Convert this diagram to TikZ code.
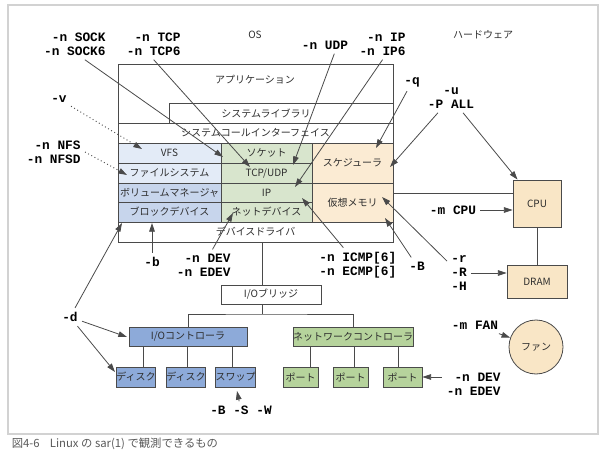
\documentclass[tikz,border=0pt]{standalone}
\usepackage{fontspec}
\setmonofont{Liberation Mono}
\newfontfamily\jpfont{Noto Sans CJK JP}
\usepackage{tikz}
\usetikzlibrary{arrows.meta}
\definecolor{boxline}{HTML}{4A4A4A}
\definecolor{framegray}{HTML}{D2D2D2}
\definecolor{jptext}{HTML}{2E2E2E}
\definecolor{fsblue}{HTML}{E3EBF7}
\definecolor{blkblue}{HTML}{C7D5EC}
\definecolor{netgreen}{HTML}{D8E5CD}
\definecolor{hwbeige}{HTML}{FBEBD3}
\definecolor{cpubeige}{HTML}{F9E6C6}
\definecolor{ioblue}{HTML}{8DAAD9}
\definecolor{portgreen}{HTML}{B6D39C}
\tikzset{>/.tip={Triangle[length=6.5pt,width=4.2pt]}}
\newcommand{\pxu}{0.75pt}

\begin{document}
\begin{tikzpicture}[x=0.75pt, y=-0.75pt, line width=0.6pt, draw=boxline,
  jp/.style={font=\jpfont\fontsize{7.5}{8.5}\selectfont, text=jptext},
  cell/.style 2 args={draw=boxline, inner sep=0pt, jp,
    minimum width=#1*\pxu, minimum height=#2*\pxu},
  optlabel/.style={font=\ttfamily\bfseries\fontsize{9.6}{10.5}\selectfont, inner sep=3pt}]
\useasboundingbox (0,0) rectangle (600,456);
\draw[framegray, line width=1pt] (8,5) rectangle (598,434);

\node[jp] (ostitle) at (255,35) {OS};
\node[jp] (hwtitle) at (483,35) {ハードウェア};

% OS layers
\node[cell={275}{178}, fill=white] (os) at (255.5,153) {};
\node[jp] (app) at (255,80) {アプリケーション};
\draw[boxline] (169,103) rectangle (393,123);
\node[jp] (syslib) at (266,113) {システムライブラリ};
\node[cell={275}{20}] (syscall) at (255.5,133) {システムコールインターフェイス};
\node[cell={103}{20}, fill=fsblue] (vfs) at (169.5,153) {VFS};
\node[cell={103}{20}, fill=fsblue] (fs) at (169.5,173) {ファイルシステム};
\node[cell={103}{19}, fill=blkblue] (vol) at (169.5,192.5) {ボリュームマネージャ};
\node[cell={103}{20}, fill=blkblue] (blk) at (169.5,212) {ブロックデバイス};
\node[cell={91}{20}, fill=netgreen] (sock) at (266.5,153) {ソケット};
\node[cell={91}{20}, fill=netgreen] (tcp) at (266.5,173) {TCP/UDP};
\node[cell={91}{19}, fill=netgreen] (ip) at (266.5,192.5) {IP};
\node[cell={91}{20}, fill=netgreen] (netdev) at (266.5,212) {ネットデバイス};
\node[cell={81}{40}, fill=hwbeige] (sched) at (352.5,163) {スケジューラ};
\node[cell={81}{39}, fill=hwbeige] (vm) at (352.5,202.5) {仮想メモリ};
\node[cell={275}{20}] (drv) at (255.5,232) {デバイスドライバ};

% hardware
\node[cell={48}{47}, fill=cpubeige] (cpu) at (537,203.5) {CPU};
\node[cell={60}{33}, fill=cpubeige] (dram) at (537,281.5) {DRAM};
\node[circle, draw=boxline, fill=cpubeige, inner sep=0pt, minimum size=54*\pxu, jp] (fan) at (536,347) {ファン};
\draw (cpu) -- (dram);
\coordinate (osport) at (393,193);
\draw (osport) -- (osport -| cpu.west);

% I/O
\coordinate (bus) at (262,314);
\node[cell={100}{19}, fill=white] (bridge) at (271,294.5) {I/Oブリッジ};
\draw (bus |- drv.south) -- (bus |- bridge.north);
\draw (bus |- bridge.south) -- (bus);
\node[cell={118}{19}, fill=ioblue] (ioc) at (188,336.5) {I/Oコントローラ};
\node[cell={120}{19}, fill=portgreen] (nic) at (353,336.5) {ネットワークコントローラ};
\draw (ioc.north) |- (bus) -| (nic.north);
\foreach \n/\x/\w/\t in {disk1/136/38/ディスク, disk2/186/38/ディスク, swap/235.5/39/スワップ}
  \node[cell={\w}{20}, fill=ioblue] (\n) at (\x,377) {\t};
\foreach \n/\x/\w in {port1/300.5/35, port2/350.5/35, port3/402.5/39}
  \node[cell={\w}{20}, fill=portgreen] (\n) at (\x,377) {ポート};
\foreach \n/\x in {disk1/143, disk2/187, swap/232}
  \draw (\n.north -| \x,0) -- (ioc.south -| \x,0);
\foreach \n/\x in {port1/310, port2/354, port3/398}
  \draw (\n.north -| \x,0) -- (nic.south -| \x,0);

% sar options
\node[optlabel, align=right, anchor=east] (sockl) at (110,44) {-n SOCK\\-n SOCK6};
\node[optlabel, align=right, anchor=east] (tcpl) at (185,44) {-n TCP\\-n TCP6};
\node[optlabel] (udpl) at (325,45) {-n UDP};
\node[optlabel, align=right, anchor=east] (ipl) at (410,44) {-n IP\\-n IP6};
\node[optlabel] (ql) at (412,82) {-q};
\node[optlabel, align=center] (ul) at (451,98) {-u\\-P ALL};
\node[optlabel] (vl) at (59,99) {-v};
\node[optlabel, align=right, anchor=east] (nfsl) at (85,152) {-n NFS\\-n NFSD};
\node[optlabel] (bl) at (152,262) {-b};
\node[optlabel] (dl) at (70,317) {-d};
\node[optlabel, align=right, anchor=east] (devl) at (235,265) {-n DEV\\-n EDEV};
\node[optlabel, align=left, anchor=west] (icmpl) at (315,265) {-n ICMP[6]\\-n ECMP[6]};
\node[optlabel] (Bl) at (417,266) {-B};
\node[optlabel, align=left, anchor=west] (rl) at (447,273) {-r\\-R\\-H};
\node[optlabel] (mcpul) at (453,210) {-m CPU};
\node[optlabel] (fanl) at (475,325) {-m FAN};
\node[optlabel, align=right, anchor=east] (devrl) at (505,384) {-n DEV\\-n EDEV};
\node[optlabel] (bswl) at (241,410) {-B -S -W};

\coordinate (tsock) at (223,157);
\coordinate (ttcp) at (250,167);
\coordinate (tudp) at (293,165);
\coordinate (tip) at (295,187);
\coordinate (tq) at (376,148);
\coordinate (tsched) at (390,167);
\coordinate (tvfs) at (142,149);
\coordinate (tfs) at (127,175);
\coordinate (tblk) at (152,223);
\coordinate (tblkd) at (122,223);
\coordinate (tioc) at (127,337);
\coordinate (tdisk) at (115,372);
\coordinate (tnetdev) at (233,213);
\coordinate (ticmp) at (302,198);
\coordinate (tvmB) at (385,218);
\coordinate (tvmr) at (382,197);
\coordinate (tswap) at (237,391);

\draw[->] ([xshift=7.5pt]sockl.south) -- (tsock);
\draw[->] (tcpl.south) -- (ttcp);
\draw[->] ([xshift=7pt]udpl.south) -- (tudp);
\draw[->] (ipl.south) -- (tip);
\draw[->] (ql) -- (tq);
\draw[->] (ul) -- (tsched);
\draw[->] (ul) -- (cpu);
\draw[->, dotted, line width=0.7pt] (vl) -- (tvfs);
\draw[->, dotted, line width=0.7pt] (nfsl.east) -- (tfs);
\draw[->] (bl) -- (tblk);
\draw[->] (dl) -- (tblkd);
\draw[->] (dl) -- (tioc);
\draw[->] (dl) -- (tdisk);
\draw[->] (devl) -- (tnetdev);
\draw[->] (icmpl) -- (ticmp);
\draw[->] (Bl) -- (tvmB);
\draw[->] (rl) -- (tvmr);
\draw[->] (rl) -- (rl -| dram.west);
\draw[->] (mcpul) -- (mcpul -| cpu.west);
\draw[->] (fanl) -- (fan);
\draw[<-] (port3.east) -- (port3.east -| devrl.west);
\draw[->] (bswl) -- (tswap);

\node[anchor=west, font=\jpfont\fontsize{8.5}{10}\selectfont, text=black!65] (caption) at (7,444)
  {図4-6\hspace{0.9em}Linux の sar(1) で観測できるもの};
\end{tikzpicture}
\end{document}
